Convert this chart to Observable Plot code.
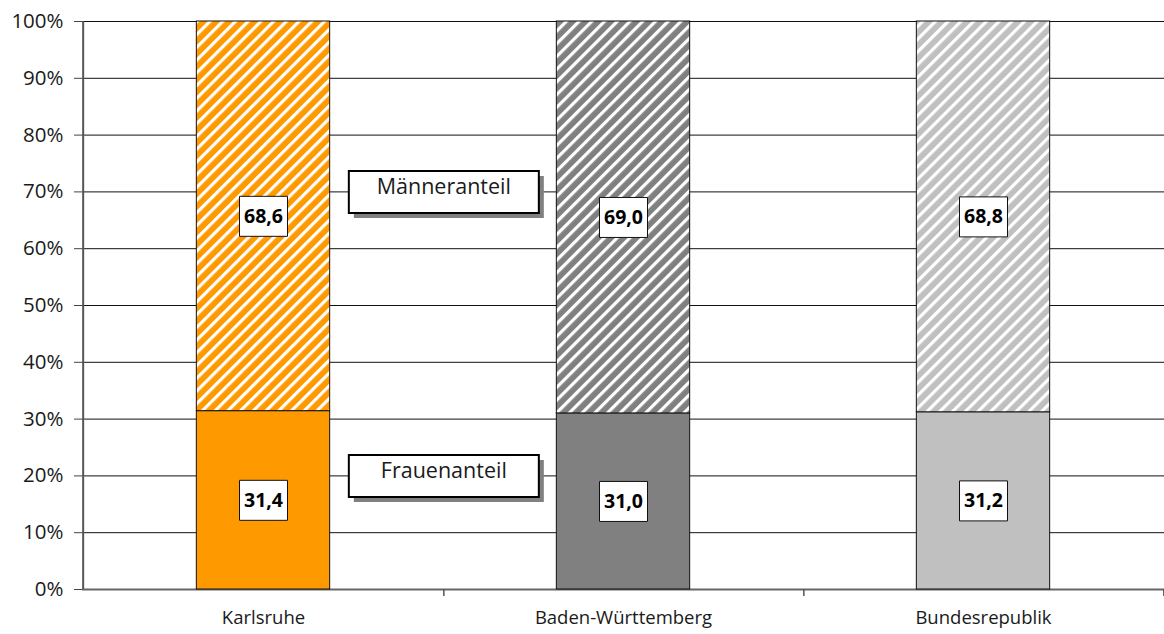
<!DOCTYPE html>
<html>
<head>
<meta charset="utf-8">
<script src="https://cdn.jsdelivr.net/npm/d3@7"></script>
<script src="https://cdn.jsdelivr.net/npm/@observablehq/plot@0.6"></script>
<style>
  body { margin: 0; background: #fff; }
  #chart svg { display: block; }
</style>
</head>
<body>
<div id="chart"></div>
<script>
// Anteil von Frauen und Männern (in %)
const regions = ["Karlsruhe", "Baden-Württemberg", "Bundesrepublik"];
const frauenanteil = [31.4, 31.0, 31.2];
const maenneranteil = [68.6, 69.0, 68.8];
const yTicks = [0, 10, 20, 30, 40, 50, 60, 70, 80, 90, 100];
const annotationTexts = ["Männeranteil", "Frauenanteil"];
const annotationLevels = [70, 20];

// Farben je Region: Frauen flächig, Männer schraffiert
const solidColors = ["#FF9900", "#808080", "#C0C0C0"];
const hatchIds = ["hatch-ka", "hatch-bw", "hatch-brd"];

const width = 1164, height = 634;
const marginLeft = 82, marginRight = 0, marginTop = 21, marginBottom = 45;
const step = (width - marginLeft - marginRight) / regions.length;
const barWidth = 134;
const barInset = (step - barWidth) / 2;

const fmt = v => v.toFixed(1).replace(".", ",");

// gestapelte Segmente
const segments = regions.flatMap((r, i) => [
  {region: r, y1: 0, y2: frauenanteil[i], fill: solidColors[i], value: frauenanteil[i]},
  {region: r, y1: frauenanteil[i], y2: frauenanteil[i] + maenneranteil[i], fill: `url(#${hatchIds[i]})`, value: maenneranteil[i]}
]);
const labels = segments.map(s => ({region: s.region, y: (s.y1 + s.y2) / 2, text: fmt(s.value)}));
const annotations = annotationTexts.map((t, i) => ({region: regions[0], y: annotationLevels[i], text: t}));

// rechteckige Symbole für Wertbeschriftungen und Legendenkästen
const boxSymbol = (w, h) => ({draw(ctx) { ctx.rect(-w / 2, -h / 2, w, h); }});
const valueBox = boxSymbol(48, 40);
const legendBox = boxSymbol(190, 42);

const plot = Plot.plot({
  width, height, marginLeft, marginRight, marginTop, marginBottom,
  style: {fontFamily: "'Open Sans', 'Noto Sans', sans-serif", color: "#111", background: "#fff"},
  x: {domain: regions, padding: 0},
  y: {domain: [0, 100]},
  color: {type: "identity"},
  marks: [
    Plot.ruleY(yTicks.filter(d => d > 0), {stroke: "#111", strokeWidth: 1}),
    Plot.axisY({ticks: yTicks, tickFormat: d => d + "%", tickSize: 8, tickPadding: 11, fontSize: 20.5, label: null, stroke: "#444", fill: "#1a1a1a"}),
    Plot.axisX({tickSize: 0, tickPadding: 21, fontSize: 18.5, label: null, fill: "#1a1a1a"}),
    // Achsenlinien
    Plot.ruleY([0], {stroke: "#666", strokeWidth: 2}),
    Plot.ruleX([regions[0]], {dx: -step / 2, y1: 0, y2: 100, stroke: "#555", strokeWidth: 2}),
    // Kategorie-Trennstriche unter der x-Achse
    Plot.ruleX(regions, {x: d => d, dx: step / 2, y1: 0, y2: 0, insetBottom: -7, stroke: "#555", strokeWidth: 1.5}),
    // Balken
    Plot.barY(segments, {x: "region", y1: "y1", y2: "y2", fill: "fill", stroke: "#111", strokeWidth: 1, insetLeft: barInset, insetRight: barInset}),
    // Wertbeschriftungen
    Plot.dot(labels, {x: "region", y: "y", symbol: valueBox, fill: "#fff", stroke: "#111", strokeWidth: 1}),
    Plot.text(labels, {x: "region", y: "y", text: "text", fontSize: 19.5, fontWeight: "bold", fill: "#000"}),
    // Beschriftungskästen
    Plot.dot(annotations, {x: "region", y: "y", dx: step / 2 + 5, dy: 5, symbol: legendBox, fill: "#808080", stroke: "none"}),
    Plot.dot(annotations, {x: "region", y: "y", dx: step / 2, symbol: legendBox, fill: "#fff", stroke: "#000", strokeWidth: 2}),
    Plot.text(annotations, {x: "region", y: "y", dx: step / 2, dy: -5, text: "text", fontSize: 21.5, fill: "#1a1a1a"})
  ]
});

// Schraffurmuster
const defs = d3.select(plot).insert("defs", ":first-child");
hatchIds.forEach((id, i) => {
  const p = defs.append("pattern")
    .attr("id", id)
    .attr("patternUnits", "userSpaceOnUse")
    .attr("width", 9).attr("height", 9)
    .attr("patternTransform", "rotate(45)");
  p.append("rect").attr("width", 9).attr("height", 9).attr("fill", solidColors[i]);
  p.append("rect").attr("x", 0).attr("width", 3.2).attr("height", 9).attr("fill", "#fff");
});

document.getElementById("chart").append(plot);
</script>
</body>
</html>
